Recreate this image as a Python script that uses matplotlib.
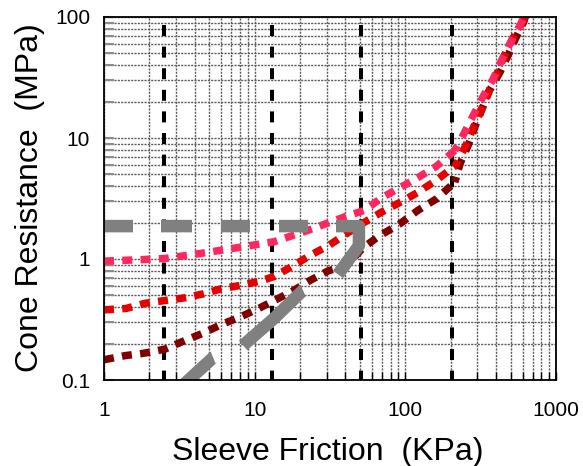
import numpy as np
import matplotlib
matplotlib.use('Agg')
import matplotlib.pyplot as plt
from matplotlib.ticker import LogLocator, FixedFormatter, FixedLocator, NullFormatter

plt.rcParams['font.family'] = ['Liberation Sans', 'DejaVu Sans']
# dash lengths below are given in points, not multiples of line width
plt.rcParams['lines.scale_dashes'] = False

PX = 0.72  # points per pixel at 100 dpi

# zone boundaries on sleeve friction (kPa)
zone_fs = [2.5, 13, 51, 205]

# cone resistance curves (fs in kPa, qc in MPa)
pink_fs = [1, 1.84, 2.54, 4.56, 7.98, 13.5, 23.3, 40.7, 53.4, 69.5, 91.8, 121, 160, 213,
           246, 282, 326, 383, 435, 500, 576, 615]
pink_qc = [0.96, 0.99, 1.01, 1.12, 1.25, 1.39, 1.75, 2.26, 2.52, 3.2, 3.88, 4.7, 5.81, 7.88,
           11.0, 15.3, 21.7, 30.8, 43.7, 61.9, 85.1, 100]

red_fs = [1, 1.4, 1.87, 2.54, 3.44, 4.56, 5.98, 7.98, 10.6, 13.5, 17.8, 23.3, 30.9, 40.7,
          53.4, 69.5, 91.8, 121, 160, 215, 249, 281, 318, 355, 406, 457, 515, 590, 620]
red_qc = [0.38, 0.39, 0.43, 0.454, 0.478, 0.515, 0.567, 0.604, 0.652, 0.717, 0.872, 1.07,
          1.29, 1.62, 2.01, 2.44, 2.93, 3.55, 4.46, 5.92, 8.4, 12.0, 16.9, 23.9, 34.2, 48.7,
          66.2, 87.7, 100]

dark_fs = [1, 1.38, 1.82, 2.54, 3.44, 4.56, 6.03, 7.98, 10.5, 13.5, 17.8, 23.3, 30.9, 40.7,
           52.4, 67.7, 91.8, 121, 161, 213, 231, 261, 289, 324, 362, 424, 480, 534, 612, 625]
dark_qc = [0.147, 0.159, 0.166, 0.18, 0.212, 0.244, 0.288, 0.331, 0.387, 0.454, 0.542, 0.665,
           0.80, 0.88, 1.24, 1.56, 1.95, 2.52, 3.14, 4.31, 6.15, 8.67, 12.3, 17.5, 24.7, 34.8,
           48, 65, 91.8, 100]

# fs where each curve bends upward
kink_fs = {'pink': 213, 'red': 215, 'dark': 213}

# boundary line: flat at ~1.9 MPa, then down toward low fs
bound_fs = [1, 49.2, 49.2, 35.7, 20.9, 13.4, 8.37, 5.29, 3.0]
bound_qc = [1.87, 1.87, 1.29, 0.744, 0.55, 0.322, 0.193, 0.153, 0.080]

fig = plt.figure(figsize=(5.83, 4.66), dpi=100)
ax = fig.add_axes([104 / 583, 86 / 466, 452 / 583, 363 / 466])
ax.set_xscale('log')
ax.set_yscale('log')
ax.set_xlim(1, 1000)
ax.set_ylim(0.1, 100)

ax.set_axisbelow(True)
ax.grid(which='both', color='#5a5a5a', linewidth=1.0, linestyle=(0, (1.5, 0.9)))

for v in zone_fs:
    ax.plot([v, v], [100, 0.1], color='black', lw=2.9,
            linestyle=(13.6 * PX, (11 * PX, 10.6 * PX)), zorder=2)

flat_dash = (10 * PX, 8.3 * PX)


def steep_dash(fs, qc, on=11.0, step=18.0):
    # dashes on the steep branch sit at fixed vertical steps (pixels), so the
    # three nearly coincident curves keep their gaps lined up
    pts = ax.transData.transform(np.column_stack([fs, qc]))
    s = np.concatenate([[0], np.cumsum(np.hypot(*np.diff(pts, axis=0).T))])
    ys = pts[:, 1]
    centers = np.interp(np.arange(ys[0], ys[-1], step), ys, s)
    seq, pos = [on / 2], on / 2
    for c in centers[1:]:
        seq += [max(c - on / 2 - pos, 0.5), on]
        pos = c + on / 2
    seq.append(1000)
    return [v * PX for v in seq]


def dashed_curve(fs, qc, kink, color, z):
    k = fs.index(kink)
    ax.plot(fs[:k + 1], qc[:k + 1], color=color, lw=5.4,
            linestyle=(0, flat_dash), zorder=z)
    ax.plot(fs[k:], qc[k:], color=color, lw=5.4,
            linestyle=(0, steep_dash(fs[k:], qc[k:])), zorder=z)


dashed_curve(dark_fs, dark_qc, kink_fs['dark'], '#800000', 3)
dashed_curve(red_fs, red_qc, kink_fs['red'], '#e60000', 4)
dashed_curve(pink_fs, pink_qc, kink_fs['pink'], '#ff285e', 5)

bound_dash = [d * PX for d in (29, 28, 31, 29, 29, 29, 29, 28, 78, 38.5, 81.4, 32.3, 100, 10)]
ax.plot(bound_fs, bound_qc, color='#808080', lw=9, linestyle=(0, bound_dash),
        solid_joinstyle='miter', zorder=6)

ax.xaxis.set_major_locator(FixedLocator([1, 10, 100, 1000]))
ax.xaxis.set_major_formatter(FixedFormatter(['1', '10', '100', '1000']))
ax.yaxis.set_major_locator(FixedLocator([0.1, 1, 10, 100]))
ax.yaxis.set_major_formatter(FixedFormatter(['0.1', '1', '10', '100']))
ax.xaxis.set_minor_locator(LogLocator(base=10, subs=range(2, 10)))
ax.yaxis.set_minor_locator(LogLocator(base=10, subs=range(2, 10)))
ax.xaxis.set_minor_formatter(NullFormatter())
ax.yaxis.set_minor_formatter(NullFormatter())

ax.tick_params(axis='y', which='both', direction='in', color='#8c8c8c', width=1.5,
               length=7, right=False, labelsize=15, pad=10)
ax.tick_params(axis='x', which='both', direction='in', color='black', width=1.0,
               length=6, top=False, labelsize=15, pad=15)

for sp in ax.spines.values():
    sp.set_linewidth(1.3)
    sp.set_color('black')
    sp.set_zorder(7)

fig.text(328 / 583, 6 / 466, 'Sleeve Friction  (KPa)', ha='center', va='baseline', fontsize=23)
fig.text(30 / 583, (466 - 198) / 466, 'Cone Resistance  (MPa)', ha='center', va='center',
         rotation=90, fontsize=23)

fig.savefig('out.png', dpi=100)
